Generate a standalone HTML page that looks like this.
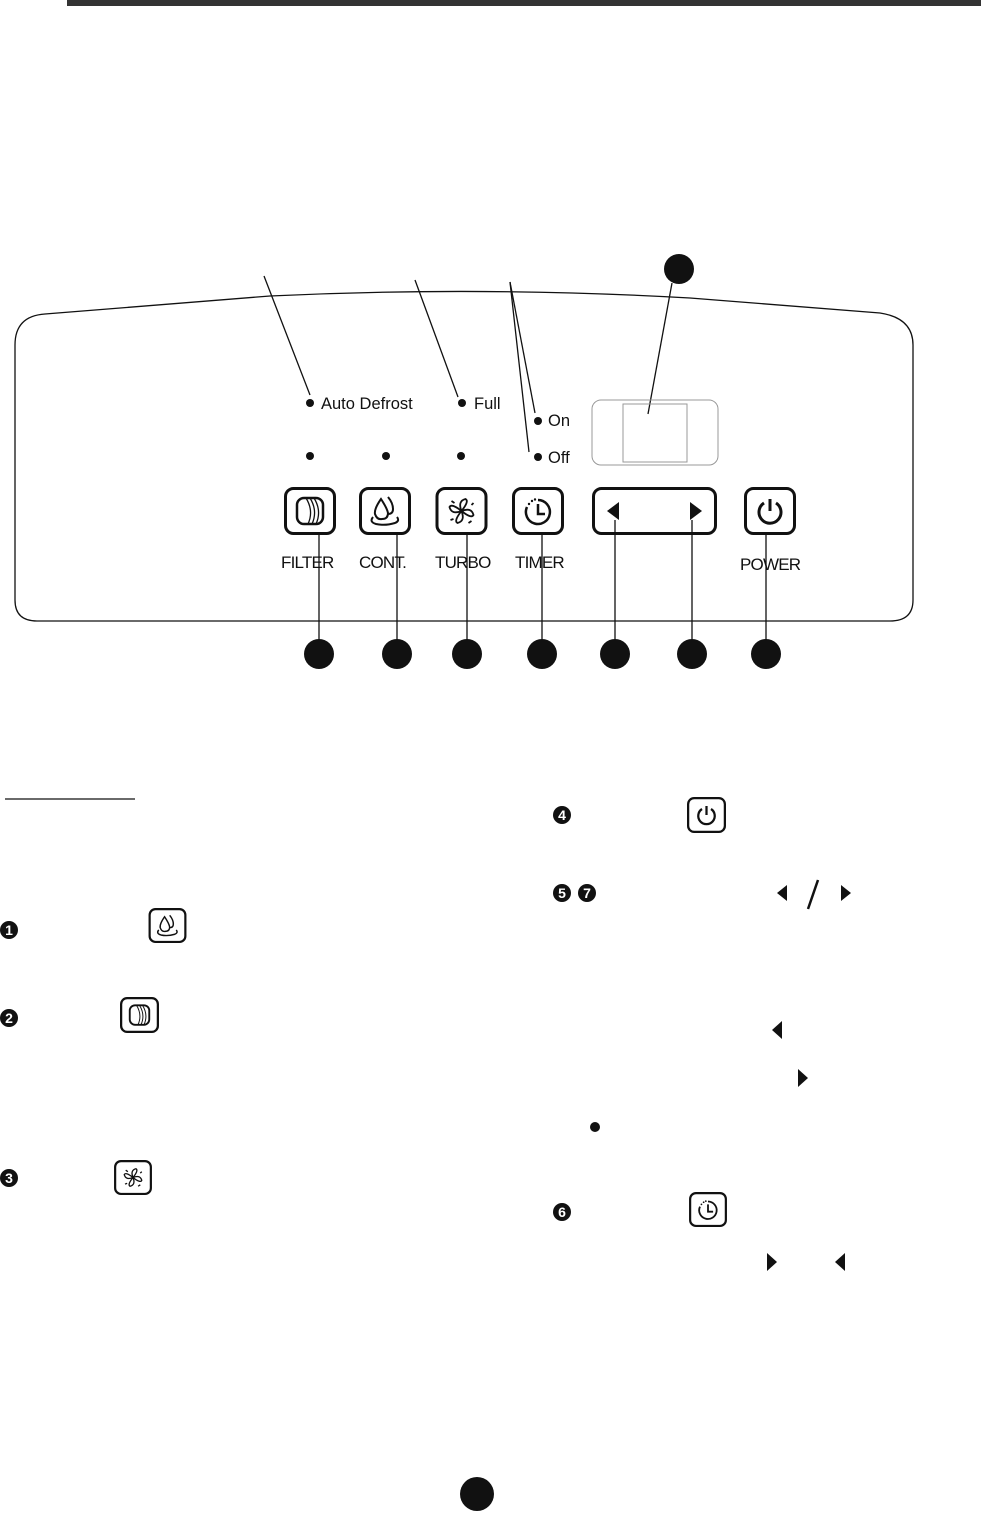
<!DOCTYPE html>
<html><head><meta charset="utf-8">
<style>
html,body{margin:0;padding:0;background:#fff;}
svg{display:block;}
text{font-family:"Liberation Sans",Arial,sans-serif;fill:#111;}
</style></head>
<body>
<svg width="981" height="1514" viewBox="0 0 981 1514" xmlns="http://www.w3.org/2000/svg">
<defs>
  <symbol id="filter" viewBox="0 0 52 48">
    <rect x="1.5" y="1.5" width="49" height="45" rx="8" fill="#fff" stroke="#111" stroke-width="3"/>
    <rect x="13" y="11" width="26" height="26" rx="7" fill="none" stroke="#111" stroke-width="2.5"/>
    <path d="M22 11 Q30 24 24 37 M26 11 Q34 24 28 37 M30 11 Q38 24 32 37" fill="none" stroke="#111" stroke-width="1.3"/>
  </symbol>
  <symbol id="cont" viewBox="0 0 52 48">
    <rect x="1.5" y="1.5" width="49" height="45" rx="8" fill="#fff" stroke="#111" stroke-width="3"/>
    <path d="M22 12 Q15 22 16 27 Q18 33 23 32 Q29 32 29 26 Q28 21 22 12Z" fill="none" stroke="#111" stroke-width="2"/>
    <path d="M29 10 Q34 16 34 22 Q34 27 29 27" fill="none" stroke="#111" stroke-width="2"/>
    <path d="M14 30 Q10 35 17 37 Q26 39 36 36 Q41 34 38 30" fill="none" stroke="#111" stroke-width="2"/>
  </symbol>
  <symbol id="turbo" viewBox="0 0 52 48">
    <rect x="1.5" y="1.5" width="49" height="45" rx="8" fill="#fff" stroke="#111" stroke-width="3"/>
    <g fill="none" stroke="#111" stroke-width="1.8">
      <path d="M26 24 Q22 14 30 12 Q34 14 26 24"/><path d="M26 24 Q36 20 38 28 Q36 32 26 24"/>
      <path d="M26 24 Q30 34 22 36 Q18 34 26 24"/><path d="M26 24 Q16 28 14 20 Q16 16 26 24"/>
      <path d="M16 14 l3 2 M33 36 l3-2 M38 16 l-2 2 M15 33 l3 -1"/>
    </g>
  </symbol>
  <symbol id="timer" viewBox="0 0 52 48">
    <rect x="1.5" y="1.5" width="49" height="45" rx="8" fill="#fff" stroke="#111" stroke-width="3"/>
    <path d="M26 13 A12 12 0 1 1 15 20" fill="none" stroke="#111" stroke-width="2.5"/>
    <path d="M26 17 V27 H33" fill="none" stroke="#111" stroke-width="2.5"/>
    <circle cx="20" cy="14" r="1.2" fill="#111"/><circle cx="17" cy="17" r="1.2" fill="#111"/><circle cx="23" cy="12.5" r="1.2" fill="#111"/>
  </symbol>
  <symbol id="power" viewBox="0 0 52 48">
    <rect x="1.5" y="1.5" width="49" height="45" rx="8" fill="#fff" stroke="#111" stroke-width="3"/>
    <path d="M20 16 A11 11 0 1 0 32 16" fill="none" stroke="#111" stroke-width="3"/>
    <path d="M26 12 V24" stroke="#111" stroke-width="3"/>
  </symbol>
</defs>

<rect x="67" y="0" width="914" height="6" fill="#333"/>

<path d="M15 600 V345 Q15 316 45 314 L270 296 Q480 286 690 298 L880 313 Q913 318 913 345 V600 Q913 621 890 621 H37 Q15 621 15 600 Z" fill="none" stroke="#111" stroke-width="1.3"/>

<g stroke="#111" stroke-width="1.3">
  <line x1="264" y1="276" x2="310" y2="395"/>
  <line x1="415" y1="280" x2="458" y2="397"/>
  <line x1="510" y1="282" x2="535" y2="413"/>
  <line x1="510" y1="282" x2="529" y2="452"/>
  <line x1="672" y1="283" x2="648" y2="414"/>
</g>
<circle cx="679" cy="269" r="15" fill="#111"/>

<rect x="592" y="400" width="126" height="65" rx="9" fill="none" stroke="#999" stroke-width="1"/>
<rect x="623" y="404" width="64" height="58" fill="none" stroke="#999" stroke-width="1"/>

<g fill="#111">
  <circle cx="310" cy="403" r="4"/><circle cx="462" cy="403" r="4"/>
  <circle cx="538" cy="421" r="4"/><circle cx="538" cy="457" r="4"/>
  <circle cx="310" cy="456" r="4"/><circle cx="386" cy="456" r="4"/><circle cx="461" cy="456" r="4"/>
</g>
<g font-size="16.5">
<text x="321" y="409">Auto Defrost</text>
<text x="474" y="409">Full</text>
<text x="548" y="426">On</text>
<text x="548" y="463">Off</text>
</g>

<use href="#filter" x="284" y="487" width="52" height="48"/>
<use href="#cont" x="359" y="487" width="52" height="48"/>
<use href="#turbo" x="435" y="487" width="53" height="48"/>
<use href="#timer" x="512" y="487" width="52" height="48"/>
<rect x="593.5" y="488.5" width="122" height="45" rx="8" fill="#fff" stroke="#111" stroke-width="3"/>
<path d="M619 502 L607 511 L619 520 Z" fill="#111"/>
<path d="M690 502 L702 511 L690 520 Z" fill="#111"/>
<use href="#power" x="744" y="487" width="52" height="48"/>

<g font-size="17" letter-spacing="-0.8">
<text x="281" y="568">FILTER</text>
<text x="359" y="568">CONT.</text>
<text x="435" y="568">TURBO</text>
<text x="515" y="568">TIMER</text>
<text x="740" y="570">POWER</text>
</g>

<g stroke="#111" stroke-width="1.3">
  <line x1="319" y1="535" x2="319" y2="645"/>
  <line x1="397" y1="535" x2="397" y2="645"/>
  <line x1="467" y1="535" x2="467" y2="645"/>
  <line x1="542" y1="535" x2="542" y2="645"/>
  <line x1="615" y1="520" x2="615" y2="645"/>
  <line x1="692" y1="520" x2="692" y2="645"/>
  <line x1="766" y1="535" x2="766" y2="645"/>
</g>
<g fill="#111">
  <circle cx="319" cy="654" r="15"/><circle cx="397" cy="654" r="15"/><circle cx="467" cy="654" r="15"/>
  <circle cx="542" cy="654" r="15"/><circle cx="615" cy="654" r="15"/><circle cx="692" cy="654" r="15"/>
  <circle cx="766" cy="654" r="15"/>
</g>

<line x1="5" y1="799" x2="135" y2="799" stroke="#111" stroke-width="1.3"/>

<g font-size="14" font-weight="bold" text-anchor="middle">
  <circle cx="9" cy="930" r="9" fill="#111"/><text x="9" y="935" style="fill:#fff">1</text>
  <circle cx="9" cy="1018" r="9" fill="#111"/><text x="9" y="1023" style="fill:#fff">2</text>
  <circle cx="9" cy="1178" r="9" fill="#111"/><text x="9" y="1183" style="fill:#fff">3</text>
  <circle cx="562" cy="815" r="9" fill="#111"/><text x="562" y="820" style="fill:#fff">4</text>
  <circle cx="562" cy="893" r="9" fill="#111"/><text x="562" y="898" style="fill:#fff">5</text>
  <circle cx="587" cy="893" r="9" fill="#111"/><text x="587" y="898" style="fill:#fff">7</text>
  <circle cx="562" cy="1212" r="9" fill="#111"/><text x="562" y="1217" style="fill:#fff">6</text>
</g>

<use href="#cont" x="148" y="908" width="39" height="35"/>
<use href="#filter" x="120" y="997" width="39" height="36"/>
<use href="#turbo" x="114" y="1160" width="38" height="35"/>
<use href="#power" x="687" y="797" width="39" height="36"/>
<use href="#timer" x="689" y="1192" width="38" height="35"/>

<g fill="#111">
  <path d="M787 885 L777 893 L787 901 Z"/>
  <path d="M841 885 L851 893 L841 901 Z"/>
  <path d="M782 1021 L772 1030 L782 1039 Z"/>
  <path d="M798 1069 L808 1078 L798 1087 Z"/>
  <circle cx="595" cy="1127" r="5"/>
  <path d="M767 1253 L777 1262 L767 1271 Z"/>
  <path d="M845 1253 L835 1262 L845 1271 Z"/>
</g>
<line x1="818" y1="880" x2="808" y2="909" stroke="#111" stroke-width="2.5"/>

<circle cx="477" cy="1494" r="17" fill="#111"/>
</svg>
</body></html>
